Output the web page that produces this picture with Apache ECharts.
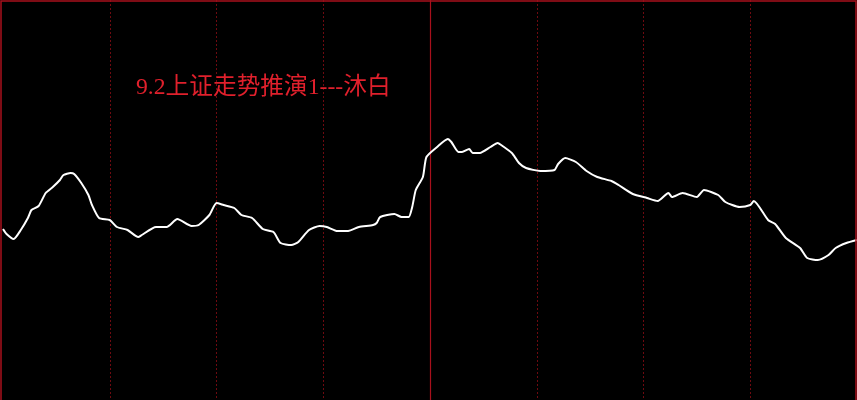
<!DOCTYPE html>
<html>
<head>
<meta charset="utf-8">
<script src="https://cdn.jsdelivr.net/npm/echarts@6/dist/echarts.min.js"></script>
<style>
  html, body { margin: 0; padding: 0; background: #000; }
  #chart { width: 857px; height: 400px; }
</style>
</head>
<body>
<div id="chart"></div>
<script>
// Minute of the trading session (0..240) and index value (relative units)
const minutes = [0,1,3,5,7,8,10,12,14,16,17,19,20,22,24,25,27,30,32,35,38,39,43,46,49,53,55,58,60,62,65,67,70,73,76,78,81,83,86,89,91,94,97,100,104,105,106,110,112,114,115,116,118,119,122,125,126,128,129,131,132,134,137,139,140,143,145,147,151,155,156,158,161,164,167,171,173,177,181,184,187,188,191,195,197,201,203,207,210,211,215,217,220,224,226,229,232,234,237,240];
const values  = [171,166,161,170,182,190,194,207,213,220,225,227,226,217,205,195,182,180,173,170,163,165,173,173,181,174,175,185,197,195,192,185,182,171,168,157,155,158,170,174,173,169,169,173,175,177,183,186,183,183,193,210,223,243,253,261,258,248,248,251,247,247,253,257,255,247,237,232,229,230,236,242,238,229,223,219,215,206,202,199,207,203,207,203,210,205,198,193,195,199,180,176,162,152,142,140,145,152,157,160];
const gridTicks = [0,30,60,90,120,150,180,210,240];
const middayMinute = 120;
const titleText = '9.2上证走势推演1---沐白';

const chart = echarts.init(document.getElementById('chart'));
chart.setOption({
  backgroundColor: '#000',
  animation: false,
  title: {
    text: titleText,
    left: 136,
    top: 76,
    padding: 0,
    textStyle: {
      color: '#e0202c',
      fontSize: 23.7,
      fontWeight: 'normal',
      fontFamily: '"Liberation Serif", "Noto Sans CJK SC", serif'
    }
  },
  grid: { left: 3, right: 0, top: 0, bottom: 0 },
  xAxis: {
    type: 'value',
    min: gridTicks[0],
    max: gridTicks[gridTicks.length - 1],
    interval: 30,
    axisLine: { show: false },
    axisTick: { show: false },
    axisLabel: { show: false },
    splitLine: {
      show: true,
      showMinLine: false,
      showMaxLine: false,
      lineStyle: { color: '#6e0a10', width: 1, type: [2, 2] }
    }
  },
  yAxis: {
    type: 'value',
    min: 0,
    max: 400,
    show: false,
    splitLine: { show: false }
  },
  graphic: [{
    type: 'rect',
    silent: true,
    z: 10,
    shape: { x: 1, y: 1, width: 855, height: 410 },
    style: { fill: null, stroke: '#a8101c', lineWidth: 1.5 }
  }],
  series: [{
    type: 'line',
    data: minutes.map((m, i) => [m, values[i]]),
    showSymbol: false,
    smooth: 0.2,
    lineStyle: { color: '#ffffff', width: 2 },
    itemStyle: { color: '#ffffff' },
    markLine: {
      silent: true,
      symbol: 'none',
      label: { show: false },
      lineStyle: { color: '#a8101c', width: 1.2, type: 'solid' },
      data: [{ xAxis: middayMinute }]
    },
    z: 5
  }]
});
</script>
</body>
</html>
